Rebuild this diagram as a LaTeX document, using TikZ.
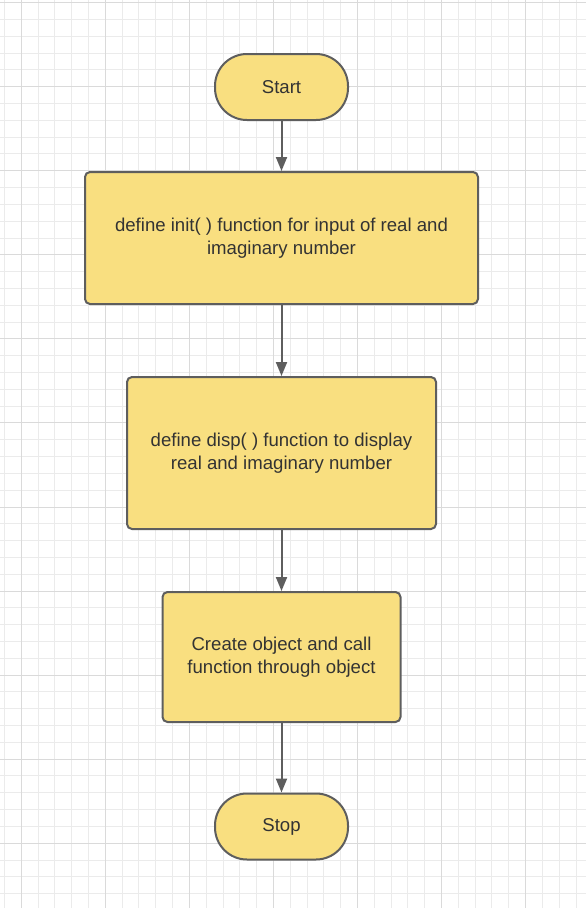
\documentclass[tikz,border=0pt]{standalone}
\usepackage{fontspec}
\setmainfont{Liberation Sans}
\usetikzlibrary{arrows.meta}
\definecolor{boxfill}{HTML}{F9DF80}
\definecolor{boxline}{HTML}{5E5E5E}
\definecolor{txt}{HTML}{333333}
\definecolor{gridminor}{HTML}{EBEBEB}
\definecolor{gridmajor}{HTML}{DADADA}
\begin{document}
\begin{tikzpicture}[x=1pt,y=-1pt,
 labelfont/.style={font=\fontsize{18.6}{22.8}\selectfont,text=txt,align=center},
 terminal/.style={draw=boxline,fill=boxfill,line width=2pt,rounded corners=32pt,minimum width=133pt,minimum height=66pt,inner sep=0pt,labelfont},
 process/.style={draw=boxline,fill=boxfill,line width=2pt,rounded corners=5pt,inner sep=0pt,labelfont},
 flow/.style={draw=boxline,line width=2pt,-{Triangle[length=14pt,width=11pt]}}]
\useasboundingbox (0,0) rectangle (586,908);
\fill[white] (0,0) rectangle (586,908);
% grid
\foreach \k in {0,...,35} {
  \draw[gridminor,line width=1pt] ({4.5+16.81*\k},0) -- ({4.5+16.81*\k},908);
}
\foreach \k in {0,...,54} {
  \draw[gridminor,line width=1pt] (0,{2.7+16.81*\k}) -- (586,{2.7+16.81*\k});
}
\foreach \k in {0,...,6} {
  \draw[gridmajor,line width=1pt] ({21.3+84.05*\k},0) -- ({21.3+84.05*\k},908);
}
\foreach \k in {0,...,10} {
  \draw[gridmajor,line width=1pt] (0,{2.7+84.05*\k}) -- (586,{2.7+84.05*\k});
}
% nodes
\node[terminal] (start) at (281.5,87) {Start};
\node[process,minimum width=393pt,minimum height=132pt] (init) at (281.5,238) {define init( ) function for input of real and\\imaginary number};
\node[process,minimum width=309pt,minimum height=152pt] (disp) at (281.5,453) {define disp( ) function to display\\real and imaginary number};
\node[process,minimum width=238pt,minimum height=130pt] (obj) at (281.5,657) {Create object and call\\function through object};
\node[terminal] (stop) at (281.5,826.5) {Stop};
% connectors
\draw[flow] (start) -- (init);
\draw[flow] (init) -- (disp);
\draw[flow] (disp) -- (obj);
\draw[flow] (obj) -- (stop);
\end{tikzpicture}
\end{document}
